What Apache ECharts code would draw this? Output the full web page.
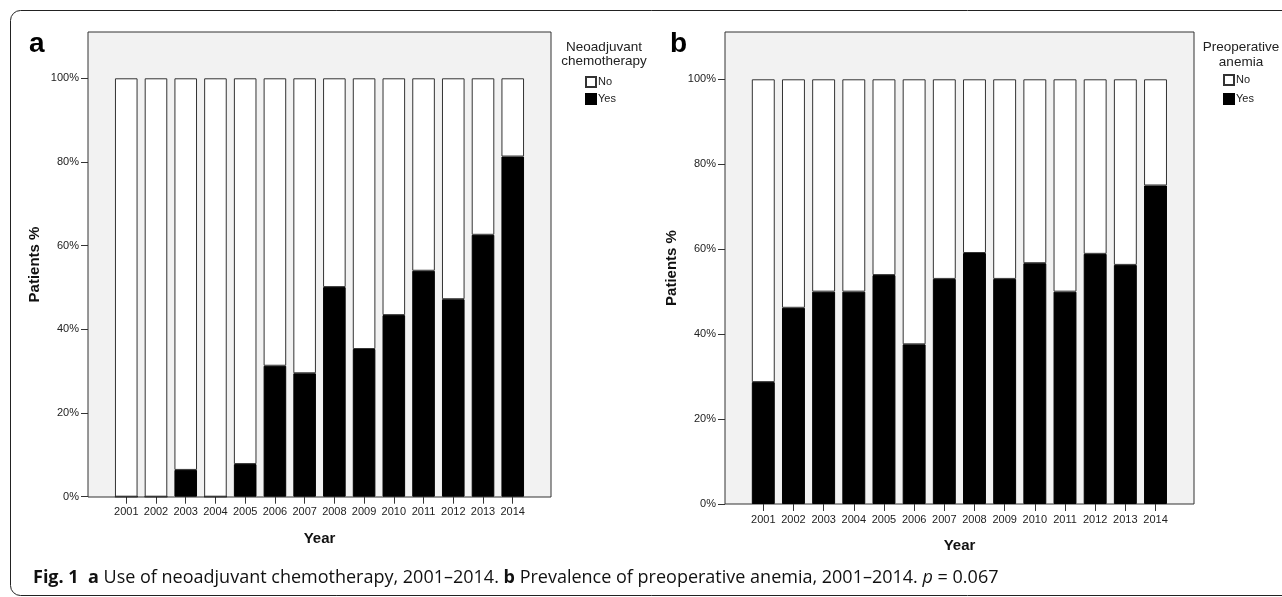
<!DOCTYPE html>
<html><head><meta charset="utf-8">
<script src="https://cdn.jsdelivr.net/npm/echarts@6/dist/echarts.min.js"></script>
<style>html,body{margin:0;padding:0;background:#fff}#c{width:1282px;height:597px}</style>
</head><body><div id="c"></div>
<script>
// ---- data ----
const years = ['2001','2002','2003','2004','2005','2006','2007','2008','2009','2010','2011','2012','2013','2014'];
const yTickStep = 20;
const chemoYes = [0, 0, 6.4, 0, 7.8, 31.3, 29.5, 50.1, 35.3, 43.4, 54.0, 47.2, 62.6, 81.3];
const chemoNo  = [100, 100, 93.6, 100, 92.2, 68.7, 70.5, 49.9, 64.7, 56.6, 46.0, 52.8, 37.4, 18.7];
const anemiaYes = [28.7, 46.2, 50.0, 50.0, 53.9, 37.6, 53.0, 59.1, 53.0, 56.7, 50.0, 58.9, 56.3, 75.0];
const anemiaNo  = [71.3, 53.8, 50.0, 50.0, 46.1, 62.4, 47.0, 40.9, 47.0, 43.3, 50.0, 41.1, 43.7, 25.0];
const legendNames = ['No', 'Yes'];
const legendTitleA = 'Neoadjuvant\nchemotherapy';
const legendTitleB = 'Preoperative\nanemia';
const caption = '{b|Fig. 1}  {b|a} Use of neoadjuvant chemotherapy, 2001–2014. {b|b} Prevalence of preoperative anemia, 2001–2014. {i|p} = 0.067';

// ---- chart ----
const FONT = '"Liberation Sans", Arial, sans-serif';
const CAPFONT = '"Open Sans", sans-serif';
const chart = echarts.init(document.getElementById('c'));

function frameGrid(left, top, width, height) {
  return {left, top, width, height, show: true, backgroundColor: '#f2f2f2', borderColor: '#333', borderWidth: 1, containLabel: false};
}
function hiddenX(gi) {
  return {gridIndex: gi, type: 'value', min: 0, max: 1,
    axisLine: {show: false}, axisTick: {show: false}, axisLabel: {show: false}, splitLine: {show: false},
    name: 'Year', nameLocation: 'middle', nameGap: 34,
    nameTextStyle: {fontWeight: 'bold', fontSize: 15, color: '#111', fontFamily: FONT}};
}
function hiddenY(gi) {
  return {gridIndex: gi, type: 'value', min: 0, max: 1,
    axisLine: {show: false}, axisTick: {show: false}, axisLabel: {show: false}, splitLine: {show: false},
    name: 'Patients %', nameLocation: 'middle', nameGap: 46, nameRotate: 90,
    nameTextStyle: {fontWeight: 'bold', fontSize: 15, color: '#111', fontFamily: FONT}};
}
function catX(gi) {
  return {gridIndex: gi, type: 'category', data: years,
    axisLine: {show: false},
    axisTick: {show: true, alignWithLabel: true, length: 7, lineStyle: {color: '#333'}},
    axisLabel: {interval: 0, fontSize: 11, color: '#222', margin: 10, fontFamily: FONT},
    splitLine: {show: false}};
}
function valY(gi, off) {
  return {gridIndex: gi, type: 'value', min: 0, max: 100, interval: yTickStep, offset: off,
    axisLine: {show: false},
    axisTick: {show: true, length: 7, lineStyle: {color: '#333'}},
    axisLabel: {formatter: v => v + '%', fontSize: 11, color: '#222', margin: 9, fontFamily: FONT},
    splitLine: {show: false}};
}
function bars(gi, stack, yes, no) {
  return [
    {type: 'bar', name: 'Yes', xAxisIndex: gi, yAxisIndex: gi, stack, data: yes, barWidth: '76%',
     itemStyle: {color: '#000', borderColor: '#000', borderWidth: 1}, emphasis: {disabled: true}},
    {type: 'bar', name: 'No', xAxisIndex: gi, yAxisIndex: gi, stack, data: no, barWidth: '76%',
     itemStyle: {color: '#fff', borderColor: '#333', borderWidth: 1}, emphasis: {disabled: true}}
  ];
}

const option = {
  animation: false,
  textStyle: {fontFamily: FONT},
  grid: [
    frameGrid(88, 32, 463, 465),
    {left: 111.4, top: 78.3, width: 416.2, height: 418.4},
    frameGrid(725, 32, 469, 472),
    {left: 748.2, top: 79.3, width: 422.4, height: 424.7}
  ],
  xAxis: [hiddenX(0), catX(1), hiddenX(2), catX(3)],
  yAxis: [hiddenY(0), valY(1, 23.4), hiddenY(2), valY(3, 23.2)],
  legend: [
    {data: legendNames, orient: 'vertical', left: 585, top: 76, icon: 'rect', itemWidth: 10, itemHeight: 10, itemGap: 5,
     padding: 0, selectedMode: false, textStyle: {fontSize: 11, color: '#222', fontFamily: FONT, padding: [0, 0, 0, -3]}},
    {data: legendNames, orient: 'vertical', left: 1223, top: 74, icon: 'rect', itemWidth: 10, itemHeight: 10, itemGap: 7,
     padding: 0, selectedMode: false, textStyle: {fontSize: 11, color: '#222', fontFamily: FONT, padding: [0, 0, 0, -3]}}
  ],
  series: [...bars(1, 'a', chemoYes, chemoNo), ...bars(3, 'b', anemiaYes, anemiaNo)],
  graphic: [
    {type: 'rect', silent: true, z: 0, shape: {x: 10.5, y: 10.5, width: 1300, height: 585, r: 10},
     style: {fill: 'none', stroke: '#222', lineWidth: 1}},
    {type: 'text', silent: true, x: 604, y: 40, style: {text: legendTitleA, align: 'center', verticalAlign: 'top',
     font: '13.5px "Liberation Sans", Arial, sans-serif', lineHeight: 14, fill: '#222'}},
    {type: 'text', silent: true, x: 1241, y: 40, style: {text: legendTitleB, align: 'center', verticalAlign: 'top',
     font: '13.5px "Liberation Sans", Arial, sans-serif', lineHeight: 15, fill: '#222'}},
    {type: 'text', silent: true, x: 29, y: 44, style: {text: 'a', verticalAlign: 'middle',
     font: 'bold 28px "Liberation Sans", Arial, sans-serif', fill: '#000'}},
    {type: 'text', silent: true, x: 670, y: 44, style: {text: 'b', verticalAlign: 'middle',
     font: 'bold 28px "Liberation Sans", Arial, sans-serif', fill: '#000'}},
    {type: 'text', silent: true, x: 33, y: 578, style: {text: caption, verticalAlign: 'middle',
     font: '18px "Open Sans", sans-serif', fill: '#111',
     rich: {b: {fontWeight: 'bold', fontSize: 18, fontFamily: CAPFONT, fill: '#111'},
            i: {fontStyle: 'italic', fontSize: 18, fontFamily: CAPFONT, fill: '#111'}}}}
  ]
};
chart.setOption(option);
</script>
</body></html>
